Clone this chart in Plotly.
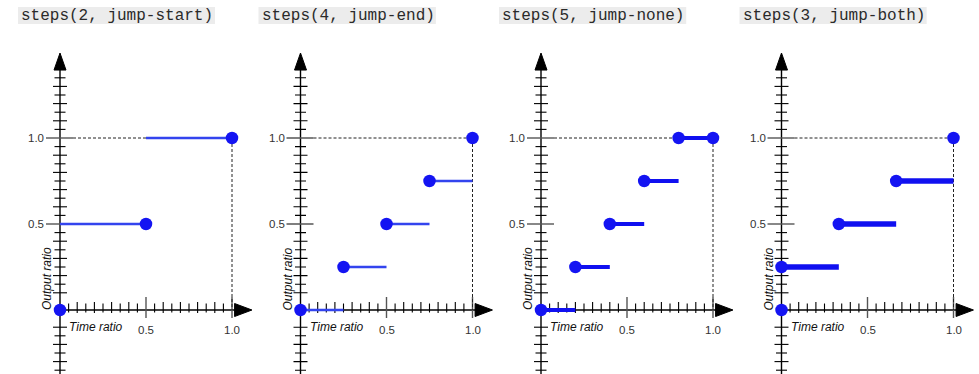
import plotly.graph_objects as go

# ---------------- data ----------------
titles = ["steps(2, jump-start)", "steps(4, jump-end)", "steps(5, jump-none)", "steps(3, jump-both)"]

seg_start = [[0, 0.5], [0, 0.25, 0.5, 0.75], [0, 0.2, 0.4, 0.6, 0.8], [0, 1/3, 2/3]]
seg_end = [[0.5, 1.0], [0.25, 0.5, 0.75, 1.0], [0.2, 0.4, 0.6, 0.8, 1.0], [1/3, 2/3, 1.0]]
seg_level = [[0.5, 1.0], [0, 0.25, 0.5, 0.75], [0, 0.25, 0.5, 0.75, 1.0], [0.25, 0.5, 0.75]]

dot_x = [[0, 0.5, 1.0], [0, 0.25, 0.5, 0.75, 1.0], [0, 0.2, 0.4, 0.6, 0.8, 1.0], [0, 0, 1/3, 2/3, 1.0]]
dot_y = [[0, 0.5, 1.0], [0, 0.25, 0.5, 0.75, 1.0], [0, 0.25, 0.5, 0.75, 1.0, 1.0], [0, 0.25, 0.5, 0.75, 1.0]]

x_tick_labels = ["0.5", "1.0"]
x_tick_vals = [0.5, 1.0]
y_tick_labels = ["0.5", "1.0"]
y_tick_vals = [0.5, 1.0]

# ---------------- styling / geometry ----------------
W, H = 979, 374
UNIT = 172.0          # pixels per data unit (both axes)
ORIGIN_Y = 310.0      # pixel row of y = 0
ORIGINS = [60, 300.5, 541, 781.5]
line_widths = [2.6, 2.6, 4.0, 5.5]
line_colors = ["#3344ee", "#3344ee", "#1010f0", "#1010f0"]
DOT_COLOR = "#1414f2"


def p(v):
    return v / UNIT


y_lo = (ORIGIN_Y - H) / UNIT
y_hi = ORIGIN_Y / UNIT

fig = go.Figure()
layout_axes = {}
shapes = []
annotations = []

for k in range(4):
    o = ORIGINS[k]
    L = max(0, o - 60)
    R = min(W, o + 200)
    xname = "x" if k == 0 else f"x{k+1}"
    axkey = "xaxis" if k == 0 else f"xaxis{k+1}"
    layout_axes[axkey] = dict(domain=[L / W, R / W], range=[(L - o) / UNIT, (R - o) / UNIT],
                              visible=False, anchor="y", fixedrange=True)

    def add(**kw):
        kw.setdefault("showlegend", False)
        kw.setdefault("hoverinfo", "skip")
        fig.add_trace(go.Scatter(xaxis=xname, yaxis="y", **kw))

    # axis lines
    add(x=[0, 0, None, 0, 1.02], y=[y_lo - 0.01, 1.40, None, 0, 0], mode="lines",
        line=dict(color="black", width=1.4))
    # arrow heads
    add(x=[-p(6), p(6), 0, -p(6), None, 1.015, 1.015, 1.116, 1.015],
        y=[1.395, 1.395, 1.494, 1.395, None, -p(6.5), p(6.5), 0, -p(6.5)],
        mode="lines", fill="toself", fillcolor="black", line=dict(color="black", width=1))

    # minor ticks on y axis
    tx, ty = [], []
    for i in range(-7, 28):
        if i in (-1, 0, 1, 10, 20):
            continue
        hw = 7 if i % 2 == 0 else 5.5
        tx += [-p(hw), p(hw), None]
        ty += [i * 0.05, i * 0.05, None]
    # minor ticks on x axis
    for i in range(1, 20):
        if i == 10:
            continue
        up, dn = (8, 3) if i % 2 == 0 else (6.5, 2.5)
        tx += [i * 0.05, i * 0.05, None]
        ty += [-p(dn), p(up), None]
    add(x=tx, y=ty, mode="lines", line=dict(color="black", width=1.1))

    # major ticks (gray)
    mx, my = [], []
    for v in y_tick_vals:
        mx += [-p(14), p(13), None]
        my += [v, v, None]
    for v in x_tick_vals:
        mx += [v, v, None]
        my += [-p(8), p(13), None]
    add(x=mx, y=my, mode="lines", line=dict(color="#555555", width=1.4))

    # dashed guides
    add(x=[p(13), 1.0, 1.0], y=[1.0, 1.0, 0.0], mode="lines",
        line=dict(color="#222222", width=1, dash="3px,2px"))

    # step segments
    sx, sy = [], []
    for a, b, lv in zip(seg_start[k], seg_end[k], seg_level[k]):
        sx += [a, b, None]
        sy += [lv, lv, None]
    add(x=sx, y=sy, mode="lines", line=dict(color=line_colors[k], width=line_widths[k]))

    # dots
    add(x=dot_x[k], y=dot_y[k], mode="markers",
        marker=dict(color=DOT_COLOR, size=12.5, line=dict(width=0)), cliponaxis=False)

    # tick labels
    for v, t in zip(y_tick_vals, y_tick_labels):
        annotations.append(dict(xref=xname, yref="y", x=-p(14), y=v, text=t, showarrow=False,
                                xanchor="right", yanchor="middle",
                                font=dict(family="Liberation Sans, Arial", size=11.5, color="#333333")))
    for v, t in zip(x_tick_vals, x_tick_labels):
        annotations.append(dict(xref=xname, yref="y", x=v, y=-p(20), text=t, showarrow=False,
                                xanchor="center", yanchor="middle",
                                font=dict(family="Liberation Sans, Arial", size=11.5, color="#333333")))
    # axis titles
    annotations.append(dict(xref=xname, yref="y", x=p(7), y=-p(17), text="<i>Time ratio</i>",
                            showarrow=False, xanchor="left", yanchor="middle",
                            font=dict(family="Liberation Sans, Arial", size=12, color="#111111")))
    annotations.append(dict(xref=xname, yref="y", x=-p(13), y=p(31), text="<i>Output ratio</i>",
                            showarrow=False, xanchor="center", yanchor="middle", textangle=-90,
                            font=dict(family="Liberation Sans, Arial", size=12, color="#111111")))

    # panel title with gray box
    bw = 9.8 * len(titles[k]) + 1
    shapes.append(dict(type="rect", xref=xname, yref="y", x0=-p(42), x1=-p(42) + p(bw),
                       y0=(ORIGIN_Y - 24) / UNIT, y1=(ORIGIN_Y - 7) / UNIT,
                       fillcolor="#ececec", line=dict(width=0), layer="below"))
    annotations.append(dict(xref=xname, yref="y", x=-p(41), y=(ORIGIN_Y - 15.5) / UNIT,
                            text=titles[k], showarrow=False, xanchor="left", yanchor="middle",
                            font=dict(family="Liberation Mono, monospace", size=16, color="#2a2a2a")))

fig.update_layout(
    width=W, height=H,
    margin=dict(l=0, r=0, t=0, b=0),
    paper_bgcolor="white",
    plot_bgcolor="rgba(0,0,0,0)",
    showlegend=False,
    yaxis=dict(domain=[0, 1], range=[y_lo, y_hi], visible=False, anchor="x", fixedrange=True),
    shapes=shapes,
    annotations=annotations,
    **layout_axes,
)

fig.write_html("out.html", config={"displayModeBar": False},
               post_script="document.body.style.margin='0px';document.body.style.overflow='hidden';")
